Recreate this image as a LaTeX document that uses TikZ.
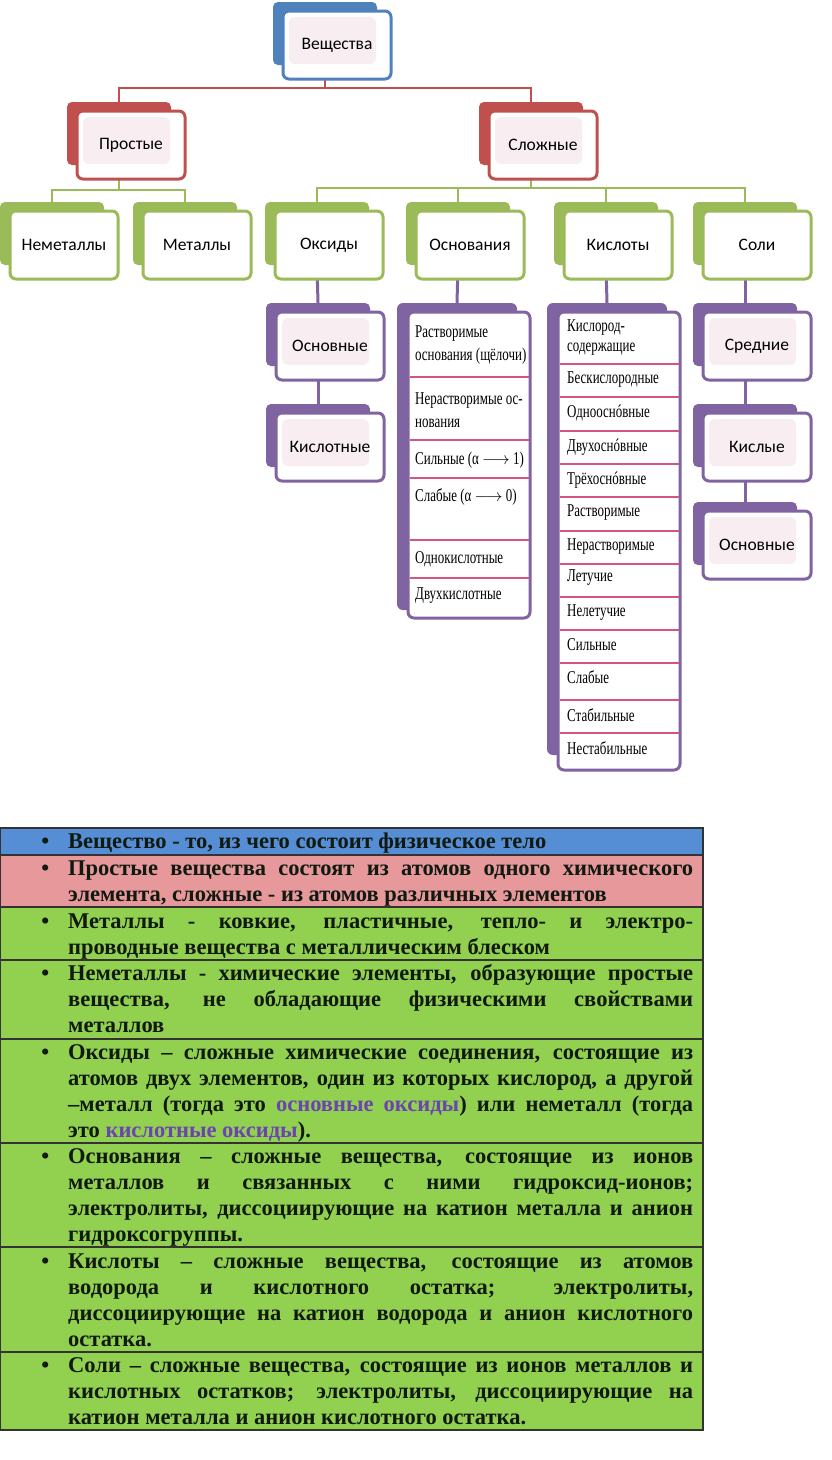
\documentclass[tikz,border=0pt]{standalone}
\usepackage{fontspec}
\setmainfont{Liberation Serif}
\newfontfamily\boxfont{Carlito}
\newfontfamily\listfont[FakeStretch=0.72]{Liberation Serif}
\usepackage{tikz}
\usetikzlibrary{backgrounds}
\definecolor{sblue}{HTML}{4F81BD}
\definecolor{sred}{HTML}{C0504D}
\definecolor{sgreen}{HTML}{9BBB59}
\definecolor{spurple}{HTML}{8064A2}
\definecolor{spink}{HTML}{F8EDF1}
\definecolor{sepline}{HTML}{D4557F}
\definecolor{rowblue}{HTML}{558ED5}
\definecolor{rowpink}{HTML}{E6989B}
\definecolor{rowgreen}{HTML}{92D050}
\definecolor{purpletext}{HTML}{6A45B0}
\definecolor{tabtext}{HTML}{101A10}

\newcommand{\tbox}[6][pinked]{%
  \node[backbox,fill=#5] (#2-b) at (#3-12,#4-11.5) {};
  \node[frontbox,#1,draw=#5] (#2) at (#3,#4) {#6};}
\newcommand{\jl}[1]{\makebox[625pt][s]{#1}}
\newcommand{\bul}{\leavevmode\llap{•\hspace{19pt}}}

\begin{document}
\begin{tikzpicture}[x=1pt,y=-1pt,
  backbox/.style={rounded corners=5pt,minimum width=104pt,minimum height=63pt,inner sep=0pt},
  frontbox/.style={rounded corners=6pt,line width=3pt,fill=white,minimum width=108pt,minimum height=68pt,
    inner sep=0pt,font=\boxfont\fontsize{17.5}{20}\selectfont},
  pinked/.style={path picture={\fill[spink] ([shift={(6pt,-6pt)}]path picture bounding box.north west)
    rectangle ([shift={(-15pt,15pt)}]path picture bounding box.south east);}},
  plain/.style={},
  listback/.style={rounded corners=6pt,fill=spurple,minimum width=120pt,inner sep=0pt},
  listfront/.style={rounded corners=6pt,line width=3pt,draw=spurple,fill=white,minimum width=122pt,
    inner sep=0pt,outer sep=0pt},
  listtext/.style={anchor=west,align=left,inner sep=0pt},
  sep/.style={sepline,line width=1.4pt,shorten <=1.5pt,shorten >=1.5pt},
  conn/.style={line width=2.5pt},
  tabline/.style={draw=black!80,line width=1.2pt},
  rowtext/.style={anchor=base west,inner sep=0pt,text=tabtext,font=\bfseries\fontsize{22.5}{26}\selectfont}]
\useasboundingbox (0,0) rectangle (832,1460);

\tbox{veshch}{337}{45}{sblue}{Вещества}
\tbox{prost}{131}{145}{sred}{Простые}
\tbox{slozh}{543}{145}{sred}{Сложные}
\tbox[plain]{nemet}{64}{245}{sgreen}{Неметаллы}
\tbox[plain]{metal}{197}{245}{sgreen}{Металлы}
\tbox[plain]{oksid}{329}{245}{sgreen}{Оксиды}
\tbox[plain]{osnov}{470}{245}{sgreen}{Основания}
\tbox[plain]{kislot}{618}{245}{sgreen}{Кислоты}
\tbox[plain]{soli}{757}{245}{sgreen}{Соли}
\tbox{osnok}{330}{346}{spurple}{Основные}
\tbox{kisok}{330}{447}{spurple}{Кислотные}
\tbox{sredn}{757}{346}{spurple}{Средние}
\tbox{kisly}{757}{447}{spurple}{Кислые}
\tbox{osnsol}{757}{545}{spurple}{Основные}

\node[listback,minimum height=307pt] (osnlist-b) at (457,456.5) {};
\node[listfront,minimum height=306pt] (osnlist) at (469,465) {};
\foreach \y in {377,440,478,540,578}
  \draw[sep] (osnlist.west |- 0,\y) -- (osnlist.east |- 0,\y);
\foreach \y/\t [count=\i] in {345/{Растворимые\\основания (щёлочи)},410/{Нерастворимые ос-\\нования},
    460/{Сильные (α $\longrightarrow$ 1)},497/{Слабые (α $\longrightarrow$ 0)},559/Однокислотные,596/Двухкислотные}
  \node[listtext,font=\listfont\fontsize{18}{23}\selectfont] (osn\i) at (415,\y) {\t};

\node[listback,minimum height=452pt] (kislist-b) at (607,529) {};
\node[listfront,minimum height=458pt] (kislist) at (619,541) {};
\foreach \y in {364,397,431,464,497,531,564,597,630,663,700,733}
  \draw[sep] (kislist.west |- 0,\y) -- (kislist.east |- 0,\y);
\foreach \y/\t [count=\i] in {338/{Кислород-\\содержащие},380/Бескислородные,413/Однооснóвные,447/Двухоснóвные,
    480/Трёхоснóвные,513/Растворимые,547/Нерастворимые,578/Летучие,613/Нелетучие,645/Сильные,
    677/Слабые,715/Стабильные,748/Нестабильные}
  \node[listtext,font=\listfont\fontsize{18}{20}\selectfont] (kis\i) at (567,\y) {\t};

\begin{scope}[on background layer]
\fill[white] (0,0) rectangle (832,1460);
\draw[conn,sred,line width=2pt] (veshch-b.south) -- (veshch-b.south |- 0,88) -| (prost-b.north);
\draw[conn,sred,line width=2pt] (veshch-b.south) -- (veshch-b.south |- 0,88) -| (slozh-b.north);
\draw[conn,sgreen] (prost-b.south) -- (prost-b.south |- 0,190) -| (nemet-b.north);
\draw[conn,sgreen] (prost-b.south) -- (prost-b.south |- 0,190) -| (metal-b.north);
\foreach \k in {oksid,osnov,kislot,soli}
  \draw[conn,sgreen] (slozh-b.south) -- (slozh-b.south |- 0,188) -| (\k-b.north);
\draw[conn,spurple,line width=3pt] (oksid-b.south) -- (osnok-b.north);
\draw[conn,spurple,line width=3pt] (osnok-b.south) -- (kisok-b.north);
\draw[conn,spurple,line width=3pt] (osnov-b.south) -- (osnlist-b.north);
\draw[conn,spurple,line width=3pt] (kislot-b.south) -- (kislist-b.north);
\draw[conn,spurple,line width=3pt] (soli-b.south) -- (sredn-b.north);
\draw[conn,spurple,line width=3pt] (sredn-b.south) -- (kisly-b.north);
\draw[conn,spurple,line width=3pt] (kisly-b.south) -- (osnsol-b.north);
\end{scope}

\fill[rowblue] (0,828) rectangle (703,855);
\fill[rowpink] (0,855) rectangle (703,907);
\fill[rowgreen] (0,907) rectangle (703,1430);
\draw[tabline] (0,828) rectangle (703,1430);
\foreach \y in {855,907,960,1039,1143,1247,1352}
  \draw[tabline] (0,\y) -- (703,\y);

\node[rowtext] (t1) at (68,848) {\parbox[t]{625pt}{\bul Вещество - то, из чего состоит физическое тело}};
\node[rowtext] (t2) at (68,875) {\parbox[t]{625pt}{\bul\jl{Простые вещества состоят из атомов одного химического}\\
  элемента, сложные - из атомов различных элементов}};
\node[rowtext] (t3) at (68,928) {\parbox[t]{625pt}{\bul\jl{Металлы - ковкие, пластичные, тепло- и электро-}\\
  проводные вещества с металлическим блеском}};
\node[rowtext] (t4) at (68,980) {\parbox[t]{625pt}{\bul\jl{Неметаллы - химические элементы, образующие простые}\\
  \jl{вещества, не обладающие физическими свойствами}\\металлов}};
\node[rowtext] (t5) at (68,1059) {\parbox[t]{625pt}{\bul\jl{Оксиды – сложные химические соединения, состоящие из}\\
  \jl{атомов двух элементов, один из которых кислород, а другой}\\
  \jl{–металл (тогда это \textcolor{purpletext}{основные оксиды}) или неметалл (тогда}\\
  это \textcolor{purpletext}{кислотные оксиды}).}};
\node[rowtext] (t6) at (68,1163) {\parbox[t]{625pt}{\bul\jl{Основания – сложные вещества, состоящие из ионов}\\
  \jl{металлов и связанных с ними гидроксид-ионов;}\\
  \jl{электролиты, диссоциирующие на катион металла и анион}\\гидроксогруппы.}};
\node[rowtext] (t7) at (68,1268) {\parbox[t]{625pt}{\bul\jl{Кислоты – сложные вещества, состоящие из атомов}\\
  \jl{водорода и кислотного остатка; электролиты,}\\
  \jl{диссоциирующие на катион водорода и анион кислотного}\\остатка.}};
\node[rowtext] (t8) at (68,1372) {\parbox[t]{625pt}{\bul\jl{Соли – сложные вещества, состоящие из ионов металлов и}\\
  \jl{кислотных остатков; электролиты, диссоциирующие на}\\
  катион металла и анион кислотного остатка.}};
\end{tikzpicture}
\end{document}
